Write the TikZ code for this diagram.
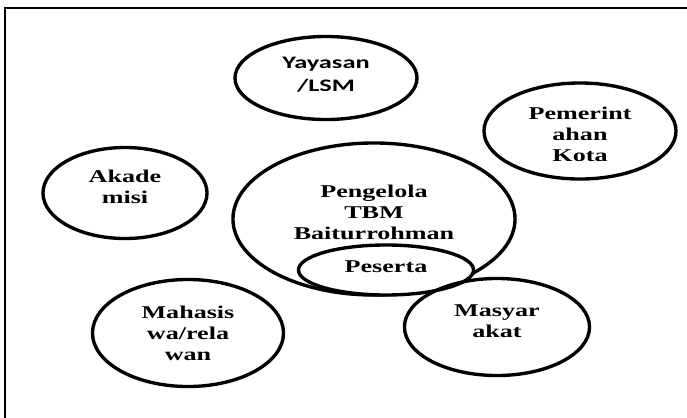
\documentclass[tikz,border=0pt]{standalone}
\usepackage{fontspec}
\setmainfont{Liberation Serif}[FakeStretch=1.45]
\newfontfamily\calfont{Carlito}[FakeStretch=1.5]
\usetikzlibrary{shapes.geometric}

\begin{document}
\begin{tikzpicture}[x=0.025cm,y=-0.025cm,every node/.append style={align=center},
  grp/.style={ellipse, draw, line width=2.4pt, inner sep=0pt},
  txt/.style={font=\bfseries\fontsize{12.8}{14.9}\selectfont},
  sanstxt/.style={font=\calfont\bfseries\fontsize{12.5}{16.3}\selectfont}]
    \useasboundingbox (0,0) rectangle (687,417);
    \draw [line width=1.2pt] (5,430) -- (5,8) -- (700,8);
    \node [grp, minimum width=4.55cm, minimum height=2.075cm, label={[sanstxt, name=yay-t, yshift=0.9mm]center:Yayasan\\/LSM}] (yay) at (326,78) {};
    \node [grp, minimum width=4.8cm, minimum height=2.4cm, label={[txt, name=pem-t, yshift=-0.9mm]center:Pemerint\\ahan\\Kota}] (pem) at (580,131) {};
    \node [grp, minimum width=4.1cm, minimum height=2.275cm, label={[txt, name=aka-t, yshift=1.6mm]center:Akade\\misi}] (aka) at (125,193) {};
    \node [grp, minimum width=7.05cm, minimum height=3.8cm, label={[txt, name=pgl-t, yshift=1.6mm]center:Pengelola\\TBM\\Baiturrohman}] (pgl) at (374,219) {};
    \node [grp, fill=white, minimum width=4.375cm, minimum height=1.25cm, label={[txt, name=pst-t, yshift=0.75mm]center:Peserta}] (pst) at (386,270) {};
    \node [grp, minimum width=4.775cm, minimum height=2.675cm, label={[txt, name=mhs-t]center:Mahasis\\wa/rela\\wan}] (mhs) at (188,333) {};
    \node [grp, minimum width=4.625cm, minimum height=2.425cm, label={[txt, name=msy-t, yshift=1.5mm]center:Masyar\\akat}] (msy) at (497,327) {};
\end{tikzpicture}
\end{document}
